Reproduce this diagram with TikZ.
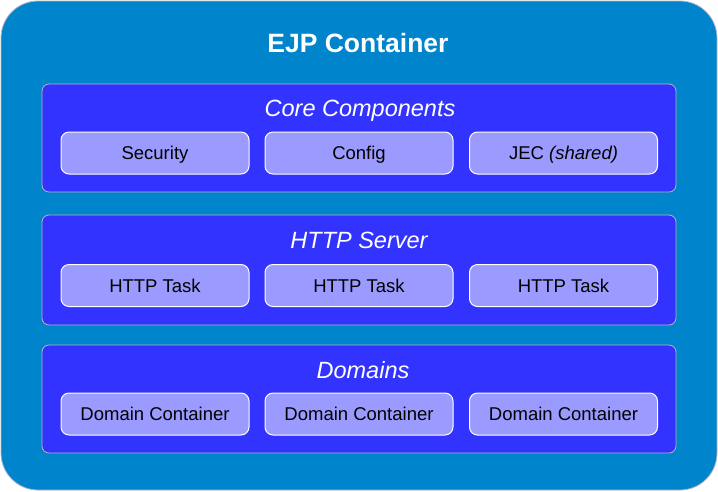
\documentclass[tikz,border=0pt]{standalone}
\usepackage{fontspec}
\setmainfont{Liberation Sans}
\definecolor{outerblue}{HTML}{0084CC}
\definecolor{panelblue}{HTML}{3333FF}
\definecolor{boxblue}{HTML}{9B9BFF}
\definecolor{edgegray}{HTML}{B4B4C8}
\tikzset{
  outerbox/.style={draw=edgegray, line width=0.8pt, fill=outerblue, rounded corners=37pt},
  panel/.style={draw=edgegray, line width=0.8pt, fill=panelblue, rounded corners=7pt, inner sep=0pt},
  itembox/.style={draw=white, line width=1pt, fill=boxblue, rounded corners=8pt, minimum width=188pt, minimum height=42pt, inner sep=0pt, text height=13.8pt, text depth=0pt, font=\fontsize{18.5}{21}\selectfont, text=black},
  paneltitle/.style={anchor=base, inner sep=0pt, text=white, font=\fontsize{23.5}{27}\selectfont\itshape},
  maintitle/.style={anchor=base, inner sep=0pt, text=white, font=\fontsize{26.5}{30}\selectfont\bfseries}
}
\begin{document}
\begin{tikzpicture}[x=1pt,y=-1pt]
\useasboundingbox (0,0) rectangle (718,491);
\draw[outerbox] (1,1) rectangle (717,490);
\node[maintitle] (title) at (358,52.2) {EJP Container};
% panels
\draw[panel] (42,84) rectangle (676,192);
\draw[panel] (42,215) rectangle (676,325);
\draw[panel] (42,345) rectangle (676,453);
\node[paneltitle] (core) at (360,116.5) {Core Components};
\node[paneltitle] (http) at (359,248.8) {HTTP Server};
\node[paneltitle] (dom) at (363,378.8) {Domains};
% core items
\node[itembox] (sec) at (155,153) {Security};
\node[itembox] (cfg) at (359,153) {Config};
\node[itembox] (jec) at (563.5,153) {JEC \textit{(shared)}};
% http items
\node[itembox] (h1) at (155,285.5) {HTTP Task};
\node[itembox] (h2) at (359,285.5) {HTTP Task};
\node[itembox] (h3) at (563.5,285.5) {HTTP Task};
% domain items
\node[itembox] (d1) at (155,414) {Domain Container};
\node[itembox] (d2) at (359,414) {Domain Container};
\node[itembox] (d3) at (563.5,414) {Domain Container};
\end{tikzpicture}
\end{document}
